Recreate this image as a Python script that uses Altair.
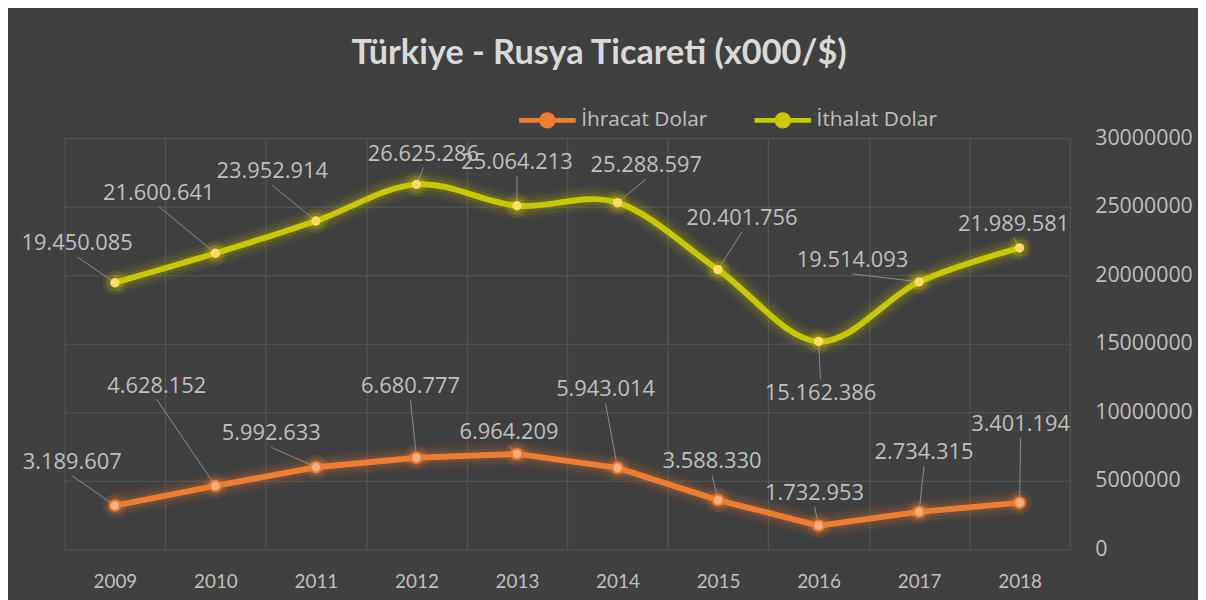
import altair as alt
import pandas as pd

years = [2009, 2010, 2011, 2012, 2013, 2014, 2015, 2016, 2017, 2018]
ihracat = [3189607, 4628152, 5992633, 6680777, 6964209, 5943014, 3588330, 1732953, 2734315, 3401194]
ithalat = [19450085, 21600641, 23952914, 26625286, 25064213, 25288597, 20401756, 15162386, 19514093, 21989581]
series_names = ["İhracat Dolar", "İthalat Dolar"]
series_colors = ["#ED7D31", "#C8C800"]
y_ticks = [0, 5000000, 10000000, 15000000, 20000000, 25000000, 30000000]

# label offsets (pixels) relative to each point: (dx, dy)
ihr_off = [(-43, -44), (-59, -101), (-45, -34), (-6, -72), (-8, -22),
           (-12, -79), (-6, -39), (-4, -33), (5, -60), (1, -79)]
ith_off = [(-38, -40), (-57, -61), (-44, -50), (7, -31), (0, -44),
           (29, -38), (24, -52), (2, 52), (-67, -22), (-6, -24)]

W, H = 1012, 414
YMAX = 30000000
PX_X = W / 10.0
PX_Y = H / YMAX


def fmt(v):
    return f"{v:,}".replace(",", ".")


rows = []
for name, vals, offs in [(series_names[0], ihracat, ihr_off), (series_names[1], ithalat, ith_off)]:
    for yr, v, (dx, dy) in zip(years, vals, offs):
        lx = yr + dx / PX_X
        ly = v - dy / PX_Y
        edy = dy + 14 if dy < 0 else dy - 14
        ex = yr + dx / PX_X
        ey = v - edy / PX_Y
        rows.append(dict(year=yr, value=v, series=name, label=fmt(v), lx=lx, ly=ly,
                         ex=ex, ey=ey, leader=abs(dy) - 14 > 6))
df = pd.DataFrame(rows)

xscale = alt.Scale(domain=[2008.5, 2018.5], nice=False, zero=False)
yscale = alt.Scale(domain=[0, YMAX], nice=False)
cscale = alt.Scale(domain=series_names, range=series_colors)

grid_x = [2008.5 + i for i in range(11)]

x_enc = alt.X("year:Q", scale=xscale, axis=alt.Axis(
    values=grid_x, grid=True, gridColor="#585858", gridWidth=1, ticks=False, domain=False,
    labelExpr="datum.value < 2018 ? format(datum.value + 0.5, 'd') : ''",
    labelOffset=PX_X / 2, labelFlush=False, labelBound=False, labelOverlap=False,
    labelPadding=23, labelFontSize=19, labelFont="Lato",
    labelColor="#BFBFBF", title=None))
y_enc = alt.Y("value:Q", scale=yscale, axis=alt.Axis(
    orient="right", values=y_ticks, format="d", grid=True, gridColor="#585858", gridWidth=1,
    ticks=False, domain=False, labelPadding=25, labelFontSize=21.5, labelFont="Open Sans",
    labelColor="#BFBFBF", title=None))

base = alt.Chart(df)

legend = alt.Legend(
    orient="none", legendX=455, legendY=-49, direction="horizontal", title=None,
    symbolType="M -1 0 L -0.2 0 M 0.2 0 L 1 0 M 0.2 0 A 0.2 0.2 0 1 1 -0.2 0 A 0.2 0.2 0 1 1 0.2 0",
    symbolSize=3249, symbolStrokeWidth=5, symbolOpacity=1, labelFontSize=21, labelFont="Open Sans",
    labelColor="#BFBFBF", columnPadding=36, labelOffset=3)

col = alt.Color("series:N", scale=cscale, legend=legend)

ith = alt.datum.series == series_names[1]
ihr = alt.datum.series == series_names[0]

layers = []
for w, op in [(26, 0.05), (19, 0.08), (12, 0.14)]:
    layers.append(base.transform_filter(ith).mark_line(interpolate="cardinal", strokeWidth=w, opacity=op).encode(
        x=x_enc, y=y_enc, color=col))
    layers.append(base.transform_filter(ihr).mark_line(strokeWidth=w, opacity=op).encode(
        x=x_enc, y=y_enc, color=col))

leaders = base.transform_filter(alt.datum.leader).mark_rule(color="#8C8C8C", strokeWidth=1).encode(
    x="year:Q", y="value:Q", x2="ex:Q", y2="ey:Q")

line_y = base.transform_filter(ith).mark_line(interpolate="cardinal", strokeWidth=6).encode(
    x="year:Q", y="value:Q", color=col)
line_o = base.transform_filter(ihr).mark_line(strokeWidth=6).encode(
    x="year:Q", y="value:Q", color=col)

pglow1 = base.mark_circle(size=600, opacity=0.12).encode(x="year:Q", y="value:Q", color=col)
pglow2 = base.mark_circle(size=300, opacity=0.22).encode(x="year:Q", y="value:Q", color=col)
pts_y = base.transform_filter(ith).mark_circle(size=90, opacity=1, color="#FFD966").encode(
    x="year:Q", y="value:Q")
pts_o = base.transform_filter(ihr).mark_point(size=110, filled=True, opacity=1, fill="#F4B183",
                                              stroke="#ED7D31", strokeWidth=2).encode(
    x="year:Q", y="value:Q")

labels = base.mark_text(font="Open Sans", fontSize=22, color="#BFBFBF", align="center",
                        baseline="middle").encode(x="lx:Q", y="ly:Q", text="label:N")

chart = alt.layer(*layers, leaders, line_y, line_o, pglow1, pglow2,
                  pts_y, pts_o, labels).properties(
    width=W, height=H,
    title=alt.TitleParams("Türkiye - Rusya Ticareti (x000/$)", font="Lato", fontSize=34.5,
                          fontWeight="bold", color="#D9D9D9", anchor="middle", dx=32, offset=18),
    padding={"left": 57, "top": 129, "right": 129, "bottom": 49},
    autosize=alt.AutoSizeParams(type="none"),
    background="#404040",
).configure_view(stroke=None)

chart.save("out.html", embed_options={"renderer": "svg", "actions": False})
